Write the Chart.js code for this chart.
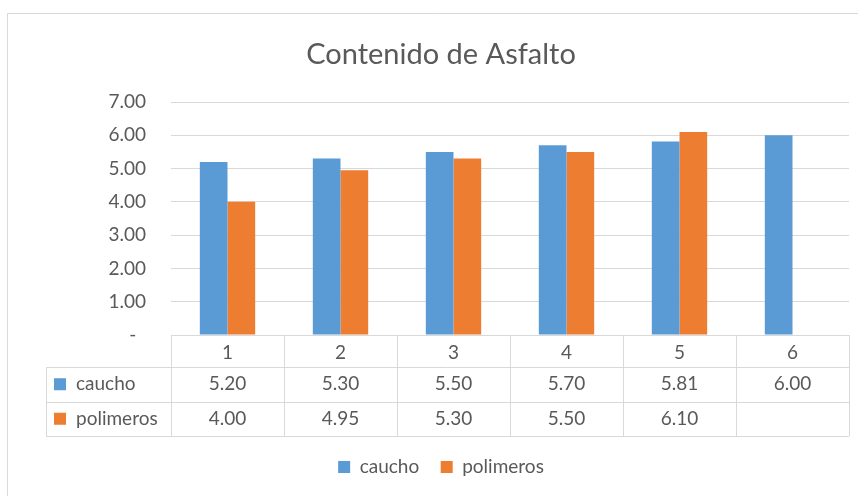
<!DOCTYPE html>
<html>
<head>
<meta charset="utf-8">
<script src="https://cdn.jsdelivr.net/npm/chart.js@4.4.0/dist/chart.umd.min.js"></script>
<style>
  html, body { margin: 0; padding: 0; background: #fff; overflow: hidden; }
  canvas { display: block; }
</style>
</head>
<body>
<canvas id="asfaltoChart" width="858" height="496"></canvas>
<script>
// datos
const categorias = ['1', '2', '3', '4', '5', '6'];
const caucho = [5.20, 5.30, 5.50, 5.70, 5.81, 6.00];
const polimeros = [4.00, 4.95, 5.30, 5.50, 6.10, null];
const yTicks = [0, 1, 2, 3, 4, 5, 6, 7];

const gris = '#595959';
const linea = '#d9d9d9';
const fuente = "Lato, 'Open Sans', sans-serif";

Chart.defaults.font.family = fuente;
Chart.defaults.color = gris;

// marco exterior del grafico
const marco = {
    id: 'marco',
    beforeDraw(chart) {
        const ctx = chart.ctx;
        ctx.save();
        ctx.strokeStyle = linea;
        ctx.lineWidth = 1;
        ctx.beginPath();
        ctx.moveTo(7.5, chart.height);
        ctx.lineTo(7.5, 13.5);
        ctx.lineTo(chart.width, 13.5);
        ctx.stroke();
        ctx.restore();
    }
};

// tabla de datos bajo el eje x
const tablaDatos = {
    id: 'tablaDatos',
    afterDraw(chart) {
        const ctx = chart.ctx;
        const x = chart.scales.x;
        const n = categorias.length;
        const colW = x.width / n;
        const headH = 32;
        const rowH = (x.bottom - x.top - headH) / 2;
        const rowLeft = 46;
        const px = v => Math.round(v) + 0.5;

        ctx.save();
        ctx.strokeStyle = linea;
        ctx.lineWidth = 1;
        ctx.beginPath();
        for (let r = 0; r <= 2; r++) {
            const y = px(x.top + headH + r * rowH);
            ctx.moveTo(rowLeft, y);
            ctx.lineTo(x.right, y);
        }
        ctx.moveTo(px(rowLeft), x.top + headH);
        ctx.lineTo(px(rowLeft), x.bottom);
        for (let i = 0; i <= n; i++) {
            const cx = px(x.left + i * colW);
            ctx.moveTo(cx, x.top);
            ctx.lineTo(cx, x.bottom);
        }
        ctx.stroke();

        ctx.font = '19px ' + fuente;
        ctx.textBaseline = 'middle';
        chart.data.datasets.forEach((ds, r) => {
            const yc = x.top + headH + r * rowH + rowH / 2;
            ctx.fillStyle = ds.backgroundColor;
            ctx.fillRect(rowLeft + 8, yc - 6, 12, 12);
            ctx.fillStyle = gris;
            ctx.textAlign = 'left';
            ctx.fillText(ds.label, rowLeft + 30, yc);
            ctx.textAlign = 'center';
            ds.data.forEach((v, i) => {
                if (v === null) return;
                ctx.fillText(v.toFixed(2), x.getPixelForValue(i), yc);
            });
        });
        ctx.restore();
    }
};

const ctx = document.getElementById('asfaltoChart').getContext('2d');
const asfaltoChart = new Chart(ctx, {
    type: 'bar',
    data: {
        labels: categorias,
        datasets: [{
            label: 'caucho',
            data: caucho,
            backgroundColor: '#5b9bd5'
        }, {
            label: 'polimeros',
            data: polimeros,
            backgroundColor: '#ed7d31'
        }]
    },
    options: {
        responsive: false,
        animation: false,
        devicePixelRatio: 1,
        categoryPercentage: 0.49,
        barPercentage: 1,
        layout: {
            padding: { left: 33, right: 9, top: 0, bottom: 9.5 }
        },
        plugins: {
            title: {
                display: true,
                text: 'Contenido de Asfalto',
                color: gris,
                font: { size: 29, weight: 'normal' },
                padding: { top: 37.6, bottom: 29.6 }
            },
            legend: {
                position: 'bottom',
                labels: {
                    boxWidth: 12,
                    boxHeight: 12,
                    padding: 21.5,
                    color: gris,
                    font: { size: 19 }
                }
            },
            tooltip: { enabled: false }
        },
        scales: {
            x: {
                grid: { display: false, drawTicks: false },
                border: { display: true, color: linea },
                ticks: { padding: 6, color: gris, font: { size: 19 } },
                afterFit(scale) { scale.height = 101; }
            },
            y: {
                min: 0,
                max: 7,
                grid: { color: linea, drawTicks: false },
                border: { display: false },
                afterBuildTicks(axis) {
                    axis.ticks = yTicks.map(v => ({ value: v }));
                },
                afterFit(scale) { scale.width = 138; },
                ticks: {
                    padding: 25,
                    color: gris,
                    font: { size: 19 },
                    callback: v => v === 0 ? '-  ' : v.toFixed(2)
                }
            }
        }
    },
    plugins: [marco, tablaDatos]
});
</script>
</body>
</html>
